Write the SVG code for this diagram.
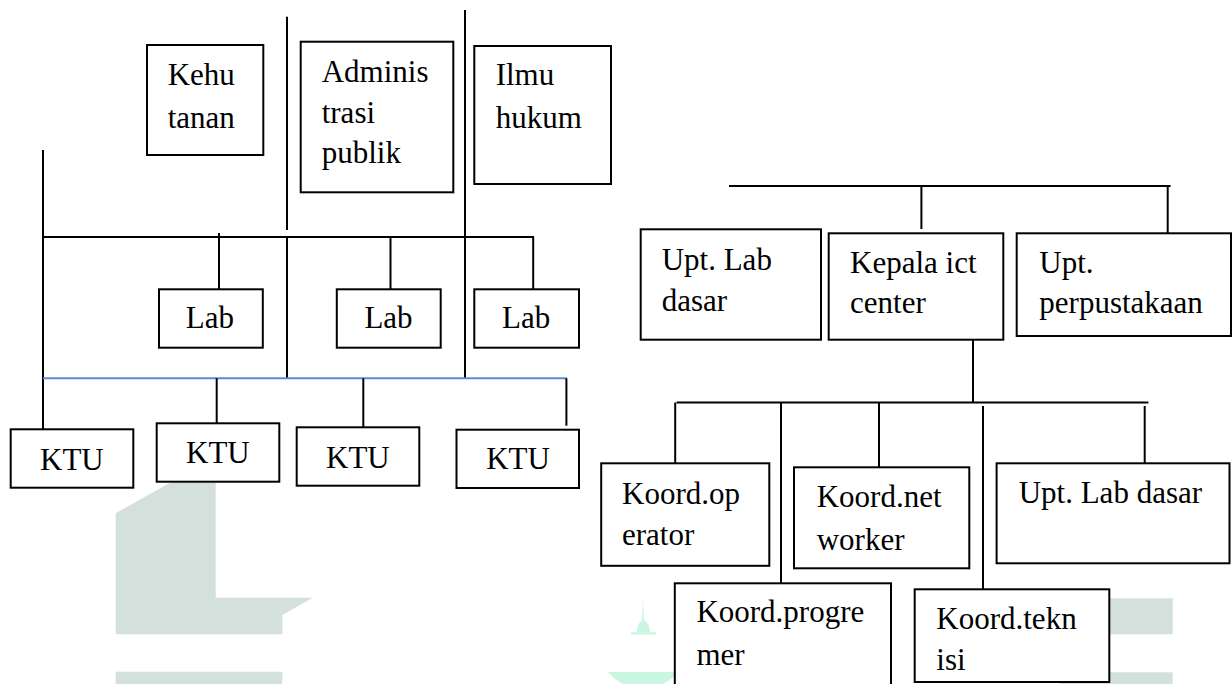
<svg xmlns="http://www.w3.org/2000/svg" width="1232" height="684" viewBox="0 0 1232 684">
  <style>
    .box { fill: #ffffff; stroke: #000000; stroke-width: 2; }
    .ln { stroke: #000000; stroke-width: 2; fill: none; }
    .blue { stroke: #5a8ccf; stroke-width: 2; fill: none; }
    .t { font-family: "Liberation Serif", "Times New Roman", serif; font-size: 31px; fill: #000000; }
    .wm { fill: #d3e0dc; }
    .wm2 { fill: #c9f7e2; }
  </style>

  <rect x="0" y="0" width="1232" height="684" fill="#ffffff"/>

  <!-- faint background emblem -->
  <g id="background-emblem">
    <polygon class="wm" points="115.7,513.3 215.7,457 215.7,597.7 312.7,597.7 282.3,615 282.3,634.3 115.7,634.3"/>
    <rect class="wm" x="115.7" y="671.7" width="166.6" height="12.3"/>
    <rect class="wm" x="1060" y="598.3" width="112.7" height="36"/>
    <rect class="wm" x="1060" y="672.3" width="112.7" height="11.7"/>
    <path class="wm2" d="M643,598 L644,620 Q650,624 650,632 L656,632 L656,634.5 L631,634.5 L631,632 L637,632 Q637,624 642,620 Z"/>
    <path class="wm2" d="M608,672 A45,45 0 0 0 678,672 Z"/>
  </g>

  <!-- connectors -->
  <g id="connectors">
    <!-- left tree -->
    <line class="ln" x1="287" y1="16.7" x2="287" y2="230"/>
    <line class="ln" x1="287" y1="236.7" x2="287" y2="378"/>
    <line class="ln" x1="465" y1="10" x2="465" y2="378"/>
    <line class="ln" x1="43" y1="150" x2="43" y2="429.3"/>
    <line class="ln" x1="42" y1="237" x2="534" y2="237"/>
    <line class="ln" x1="219" y1="233" x2="219" y2="289.3"/>
    <line class="ln" x1="390.5" y1="237" x2="390.5" y2="289.3"/>
    <line class="ln" x1="533.2" y1="237" x2="533.2" y2="289.3"/>
    <line class="blue" x1="43" y1="378.3" x2="567" y2="378.3"/>
    <line class="ln" x1="216.7" y1="378.3" x2="216.7" y2="423.3"/>
    <line class="ln" x1="363.3" y1="378.3" x2="363.3" y2="427.3"/>
    <line class="ln" x1="566.4" y1="378.3" x2="566.4" y2="425.7"/>
    <!-- right tree -->
    <line class="ln" x1="729" y1="186" x2="1170.6" y2="186"/>
    <line class="ln" x1="921.4" y1="186" x2="921.4" y2="229"/>
    <line class="ln" x1="1167.7" y1="186" x2="1167.7" y2="235"/>
    <line class="ln" x1="973" y1="340" x2="973" y2="402.5"/>
    <line class="ln" x1="676.5" y1="402.5" x2="1148.4" y2="402.5"/>
    <line class="ln" x1="675.2" y1="402.5" x2="675.2" y2="463.3"/>
    <line class="ln" x1="781" y1="402.5" x2="781" y2="583.3"/>
    <line class="ln" x1="879" y1="402.5" x2="879" y2="467.3"/>
    <line class="ln" x1="983" y1="406" x2="983" y2="589.3"/>
    <line class="ln" x1="1144.7" y1="406" x2="1144.7" y2="465"/>
  </g>

  <!-- faculties -->
  <g id="kehutanan">
    <rect class="box" x="147" y="45" width="116.3" height="110"/>
    <text class="t" x="167.7" y="85">Kehu</text>
    <text class="t" x="167.7" y="128.3">tanan</text>
  </g>
  <g id="administrasi-publik">
    <rect class="box" x="300.7" y="41.7" width="152.6" height="150.6"/>
    <text class="t" x="321.7" y="81.7">Adminis</text>
    <text class="t" x="321.7" y="123.3">trasi</text>
    <text class="t" x="321.7" y="163.3">publik</text>
  </g>
  <g id="ilmu-hukum">
    <rect class="box" x="474.3" y="46" width="136.7" height="138"/>
    <text class="t" x="495.7" y="85">Ilmu</text>
    <text class="t" x="495.7" y="128.3">hukum</text>
  </g>

  <!-- labs -->
  <g id="lab-1">
    <rect class="box" x="159" y="289.3" width="103.8" height="58.4"/>
    <text class="t" x="185.8" y="328.3">Lab</text>
  </g>
  <g id="lab-2">
    <rect class="box" x="336.8" y="289.3" width="103.9" height="58.4"/>
    <text class="t" x="364.4" y="328.3">Lab</text>
  </g>
  <g id="lab-3">
    <rect class="box" x="474.3" y="289.3" width="104.7" height="58.4"/>
    <text class="t" x="502" y="328.3">Lab</text>
  </g>

  <!-- KTU -->
  <g id="ktu-1">
    <rect class="box" x="10.7" y="429.3" width="122.6" height="58.4"/>
    <text class="t" x="40" y="470">KTU</text>
  </g>
  <g id="ktu-2">
    <rect class="box" x="156.7" y="423.3" width="122.6" height="58.4"/>
    <text class="t" x="186" y="463.3">KTU</text>
  </g>
  <g id="ktu-3">
    <rect class="box" x="296.7" y="427.3" width="122.6" height="58.4"/>
    <text class="t" x="326" y="468.3">KTU</text>
  </g>
  <g id="ktu-4">
    <rect class="box" x="456.5" y="429.7" width="122.5" height="58.3"/>
    <text class="t" x="486.2" y="469.3">KTU</text>
  </g>

  <!-- units -->
  <g id="upt-lab-dasar-top">
    <rect class="box" x="640.7" y="229.3" width="180.3" height="110.4"/>
    <text class="t" x="661.7" y="270">Upt. Lab</text>
    <text class="t" x="661.7" y="311">dasar</text>
  </g>
  <g id="kepala-ict-center">
    <rect class="box" x="828.7" y="233.3" width="174.6" height="106.4"/>
    <text class="t" x="850" y="272.7">Kepala ict</text>
    <text class="t" x="850" y="313.3">center</text>
  </g>
  <g id="upt-perpustakaan">
    <rect class="box" x="1016.7" y="233.3" width="214.3" height="102.7"/>
    <text class="t" x="1039.3" y="273.3">Upt.</text>
    <text class="t" x="1039.3" y="313.3">perpustakaan</text>
  </g>

  <!-- coordinators -->
  <g id="koord-operator">
    <rect class="box" x="601.2" y="463.3" width="168.1" height="102.5"/>
    <text class="t" x="622" y="504.3">Koord.op</text>
    <text class="t" x="622" y="545">erator</text>
  </g>
  <g id="koord-networker">
    <rect class="box" x="794" y="467.3" width="175.3" height="101"/>
    <text class="t" x="816.7" y="507.3">Koord.net</text>
    <text class="t" x="816.7" y="550">worker</text>
  </g>
  <g id="upt-lab-dasar-bottom">
    <rect class="box" x="996.6" y="463.3" width="232.9" height="100"/>
    <text class="t" x="1018.7" y="503.3">Upt. Lab dasar</text>
  </g>
  <g id="koord-progremer">
    <rect class="box" x="674.8" y="583.3" width="216.2" height="110"/>
    <text class="t" x="696.4" y="622.3">Koord.progre</text>
    <text class="t" x="696.4" y="665">mer</text>
  </g>
  <g id="koord-teknisi">
    <rect class="box" x="914.7" y="589.3" width="194.6" height="92.7"/>
    <text class="t" x="936.3" y="629.3">Koord.tekn</text>
    <text class="t" x="936.3" y="670">isi</text>
  </g>
</svg>
